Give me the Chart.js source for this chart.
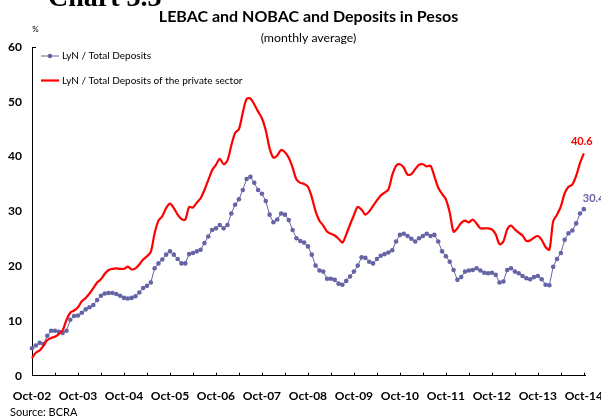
<!DOCTYPE html>
<html><head><meta charset="utf-8">
<script src="https://cdn.jsdelivr.net/npm/chart.js@4/dist/chart.umd.min.js"></script>
<style>html,body{margin:0;padding:0;background:#fff}#wrap{width:601px;height:418px;position:relative}</style>
</head><body><div id="wrap"><canvas id="c" width="601" height="418"></canvas></div>
<script>
// ---- data ----
const monthNames = ['Jan','Feb','Mar','Apr','May','Jun','Jul','Aug','Sep','Oct','Nov','Dec'];
const categories = [];
for (let k = 0; k < 145; k++) {
  const m = (9 + k) % 12, yr = 2002 + Math.floor((9 + k) / 12);
  categories.push(monthNames[m] + '-' + String(yr).slice(2));
}
const tickLabels = ['Oct-02','Oct-03','Oct-04','Oct-05','Oct-06','Oct-07','Oct-08','Oct-09','Oct-10','Oct-11','Oct-12','Oct-13','Oct-14'];

const lynTotal = [5.0,5.5,6.0,5.8,7.3,8.2,8.2,8.0,7.8,8.2,
10.2,10.9,11.0,11.5,12.1,12.5,12.9,13.8,14.6,15.0,
15.1,15.1,14.9,14.6,14.2,14.1,14.2,14.5,15.2,16.0,
16.4,17.0,19.6,20.5,21.2,22.1,22.7,22.1,21.3,20.5,
20.5,22.2,22.4,22.7,23.0,24.2,25.4,26.6,26.9,27.5,
26.9,27.5,29.6,31.2,32.2,33.9,35.9,36.3,35.2,33.9,
33.2,31.9,29.4,28.0,28.5,29.6,29.4,28.4,26.6,25.1,
24.6,24.3,23.6,22.1,20.1,19.2,19.0,17.7,17.7,17.5,
16.8,16.6,17.3,18.1,19.0,20.1,21.6,21.5,20.8,20.5,
21.3,21.9,22.2,22.5,22.9,24.5,25.7,25.9,25.5,25.0,
24.5,25.1,25.5,25.9,25.5,25.7,24.5,22.7,21.8,20.8,
19.3,17.5,18.0,19.0,19.2,19.3,19.6,19.2,18.8,18.7,
18.8,18.4,17.0,17.2,19.3,19.6,19.0,18.7,18.2,17.8,
17.6,18.0,18.2,17.6,16.6,16.5,19.9,21.3,22.4,24.8,
26.0,26.5,27.8,29.6,30.4];

const lynPrivate = [3.2,4.2,4.6,5.5,6.5,6.9,7.1,7.6,8.3,10.2,
11.5,11.9,12.5,13.6,14.2,15.0,16.0,17.0,17.6,18.6,
19.3,19.5,19.6,19.5,19.5,19.9,19.4,19.6,20.3,21.2,
21.8,22.6,26.0,28.3,29.1,30.6,31.4,30.6,29.4,28.6,
28.5,30.8,30.7,31.6,32.4,33.9,35.7,37.5,38.5,39.6,
38.6,39.3,42.0,44.3,45.0,48.0,50.5,50.6,49.5,48.2,
47.0,44.8,41.5,39.8,40.2,41.2,40.8,39.8,38.0,35.8,
35.2,35.0,34.5,32.6,30.0,28.3,27.4,26.3,25.9,25.6,
25.0,24.3,25.8,27.6,29.3,30.8,30.3,29.4,30.0,31.0,
32.0,32.9,33.4,34.0,36.6,38.3,38.6,38.0,36.7,36.8,
37.7,38.5,38.6,38.2,38.3,36.4,34.3,33.2,32.2,29.8,
26.3,26.9,27.9,28.3,28.0,28.5,27.8,26.9,26.9,26.9,
26.7,25.8,24.0,24.5,26.7,27.4,26.7,26.1,25.6,24.6,
24.7,25.2,25.5,24.8,23.5,23.0,28.2,29.4,30.9,33.3,
34.5,34.9,36.5,38.8,40.6];

const seriesNames = ['LyN / Total Deposits', 'LyN / Total Deposits of the private sector'];
const titleText = 'LEBAC and NOBAC and Deposits in Pesos';
const subtitleText = '(monthly average)';
const unitText = '%';
const chartNumber = 'Chart 3.3';
const sourceText = 'Source: BCRA';

// ---- styles ----
const BLUE = '#6565a5', RED = '#ff0000';
const FONT = 'Lato';

const extras = {
  id: 'extras',
  afterDraw(chart) {
    const {ctx, chartArea: a, scales: {x, y}} = chart;
    ctx.save();
    ctx.strokeStyle = '#000'; ctx.lineWidth = 1;
    x.ticks.forEach(t => {
      const px = Math.round(x.getPixelForValue(t.value)) + 0.5;
      ctx.beginPath(); ctx.moveTo(px, a.bottom); ctx.lineTo(px, a.bottom - 3); ctx.stroke();
    });
    const py = Math.round(y.getPixelForValue(60)) + 0.5;
    ctx.beginPath(); ctx.moveTo(a.left, py); ctx.lineTo(a.left + 4, py); ctx.stroke();

    ctx.fillStyle = '#000'; ctx.textAlign = 'center'; ctx.textBaseline = 'middle';
    ctx.font = 'bold 16px ' + FONT; ctx.fillText(titleText, 308.5, 17);
    ctx.font = '12.3px ' + FONT; ctx.fillText(subtitleText, 308.5, 38.5);
    ctx.font = '8px ' + FONT; ctx.fillText(unitText, 35.5, 29);
    ctx.textAlign = 'left'; ctx.textBaseline = 'alphabetic';
    ctx.font = 'bold 28px "Liberation Serif"'; ctx.fillText(chartNumber, 48, 6);
    ctx.textBaseline = 'middle';
    ctx.font = '11px ' + FONT; ctx.fillText(sourceText, 10, 412.5);

    // legend
    const ds = chart.data.datasets;
    ctx.font = '10px ' + FONT;
    const items = [[ds[0], 56], [ds[1], 80.5]];
    items.forEach(([d, ly], k) => {
      ctx.strokeStyle = d.borderColor; ctx.lineWidth = k === 0 ? 1 : 2.2;
      ctx.beginPath(); ctx.moveTo(41, ly); ctx.lineTo(59, ly); ctx.stroke();
      if (k === 0) { ctx.fillStyle = d.borderColor; ctx.beginPath(); ctx.arc(50, ly, 2.3, 0, Math.PI * 2); ctx.fill(); }
      ctx.fillStyle = '#000'; ctx.fillText(d.label, 62, ly);
    });

    // end value labels
    const mR = chart.getDatasetMeta(1).data, mB = chart.getDatasetMeta(0).data;
    const pR = mR[mR.length - 1], pB = mB[mB.length - 1];
    ctx.font = 'bold 11px ' + FONT;
    ctx.fillStyle = RED; ctx.textAlign = 'center';
    ctx.fillText(lynPrivate[lynPrivate.length - 1].toFixed(1), pR.x - 2, pR.y - 12);
    ctx.fillStyle = BLUE; ctx.textAlign = 'left';
    ctx.fillText(lynTotal[lynTotal.length - 1].toFixed(1), pB.x - 1, pB.y - 11);
    ctx.restore();
  }
};

new Chart(document.getElementById('c'), {
  type: 'line',
  data: {
    labels: categories,
    datasets: [
      { label: seriesNames[0], data: lynTotal.map((v, i) => ({x: i, y: v})),
        borderColor: BLUE, backgroundColor: BLUE, borderWidth: 1, pointRadius: 2.3,
        pointBorderWidth: 0, pointBackgroundColor: BLUE, tension: 0, clip: false, order: 1 },
      { label: seriesNames[1], data: lynPrivate.map((v, i) => ({x: i, y: v})),
        borderColor: RED, backgroundColor: RED, borderWidth: 2.2, pointRadius: 0,
        tension: 0.3, clip: false, order: 0 }
    ]
  },
  options: {
    responsive: false, animation: false, devicePixelRatio: 1,
    layout: { padding: { left: 0, top: 47, right: 16, bottom: 0 } },
    plugins: { legend: { display: false }, tooltip: { enabled: false }, title: { display: false } },
    scales: {
      x: {
        type: 'linear', min: 0, max: 144.3,
        afterBuildTicks: s => { s.ticks = s.ticks.filter(t => t.value % 6 === 0); },
        afterFit: s => { s.height = 42.3; s.paddingLeft = 0; s.paddingRight = 0; },
        ticks: { stepSize: 6, includeBounds: false, autoSkip: false, maxRotation: 0, padding: 13, color: '#000',
          font: { family: FONT, weight: 'bold', size: 12 },
          callback: v => (v % 12 === 0 ? tickLabels[v / 12] : '') },
        grid: { display: false, drawTicks: false },
        border: { display: true, color: '#000', width: 1 }
      },
      y: {
        min: 0, max: 60,
        afterFit: s => { s.width = 32; s.paddingTop = 0; s.paddingBottom = 0; },
        ticks: { stepSize: 10, padding: 10, color: '#000', font: { family: FONT, weight: 'bold', size: 12 } },
        grid: { display: false, drawTicks: false },
        border: { display: true, color: '#000', width: 1 }
      }
    }
  },
  plugins: [extras]
});
</script></body></html>
